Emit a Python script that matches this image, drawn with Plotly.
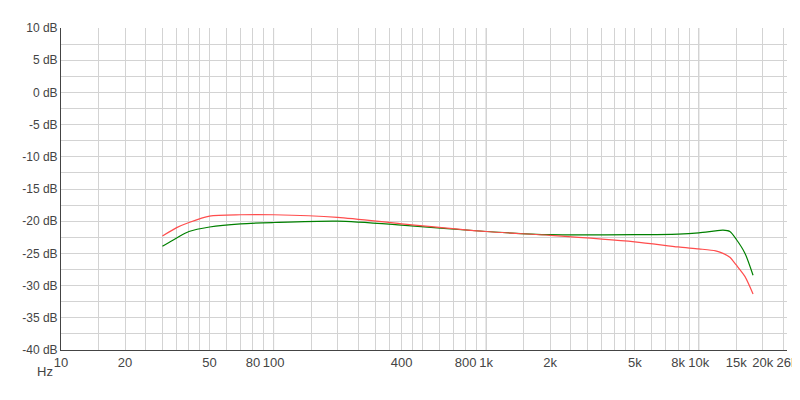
import plotly.graph_objects as go

freq_left = [30, 35, 40, 50, 70, 100, 200, 400, 1000, 2000, 5000, 8000, 10000, 12000, 13000, 14000, 15000, 16500, 18000]
db_left = [-23.9, -22.6, -21.6, -20.9, -20.4, -20.2, -20.0, -20.6, -21.6, -22.1, -22.1, -22.0, -21.8, -21.5, -21.4, -21.6, -22.8, -25.0, -28.4]
freq_right = [30, 35, 40, 50, 70, 100, 200, 400, 1000, 2000, 5000, 8000, 10000, 12000, 13000, 14000, 15000, 16500, 18000]
db_right = [-22.3, -21.0, -20.2, -19.2, -19.0, -19.0, -19.4, -20.4, -21.6, -22.2, -23.2, -24.0, -24.3, -24.6, -25.0, -25.6, -26.8, -28.6, -31.3]

tick_vals = [10, 20, 50, 80, 100, 400, 800, 1000, 2000, 5000, 8000, 10000, 15000, 20000, 26000]
tick_text = ["10", "20", "50", "80", "100", "400", "800", "1k", "2k", "5k", "8k", "10k", "15k", "20k", "26k"]
decades = [100, 1000, 10000]
minor_vals = []
for d in [10, 100, 1000, 10000]:
    for m in [1, 1.5, 2, 2.5, 3, 3.5, 4, 4.5, 5, 6, 7, 8, 9]:
        v = d * m
        if v <= 26000:
            minor_vals.append(v)
y_ticks = list(range(-40, 11, 5))
y_text = [f"{v} dB" for v in y_ticks]

fig = go.Figure()
fig.add_trace(go.Scatter(x=freq_left, y=db_left, name="<span style='color:#008000'>LEFT</span>", mode="lines",
                         line=dict(color="#008000", width=1.2, shape="spline", smoothing=0.7)))
fig.add_trace(go.Scatter(x=freq_right, y=db_right, name="<span style='color:#ff4d4d'>RIGHT</span>", mode="lines",
                         line=dict(color="#ff4d4d", width=1.2, shape="spline", smoothing=0.7)))
for d in decades:
    fig.add_shape(type="line", x0=d, x1=d, y0=0, y1=1, xref="x", yref="paper",
                  line=dict(color="#b4b4b4", width=1), layer="below")

fig.update_layout(
    width=800, height=400, margin=dict(l=53, r=21, t=20, b=58, autoexpand=False),
    paper_bgcolor="white", plot_bgcolor="white",
    font=dict(family="Liberation Sans, Arial", size=13, color="#444"),
    showlegend=True,
    legend=dict(orientation="h", x=0.0, y=-0.13, xanchor="left", yanchor="top",
                font=dict(size=12), itemwidth=40),
    xaxis=dict(type="log", range=[1, 4.41497], tickvals=tick_vals, ticktext=tick_text,
               showgrid=False, showline=True, linecolor="#444", automargin=False,
               ticks="", zeroline=False, tickfont=dict(color="#444", size=13),
               minor=dict(tickvals=minor_vals, showgrid=True, gridcolor="#d3d3d3", gridwidth=1, ticks="")),
    yaxis=dict(range=[-40, 10], tickvals=y_ticks, ticktext=y_text, showgrid=True, automargin=False,
               gridcolor="#d3d3d3", showline=True, linecolor="#444", zeroline=False,
               ticks="", tickfont=dict(color="#444", size=12),
               minor=dict(dtick=2.5, showgrid=True, gridcolor="#d3d3d3", ticks="")),
)
fig.add_annotation(text="Hz", x=-0.008, y=0, xref="paper", yref="paper", yshift=-21,
                   xanchor="right", yanchor="middle", showarrow=False, font=dict(size=13, color="#444"))
fig.write_html("out.html")
